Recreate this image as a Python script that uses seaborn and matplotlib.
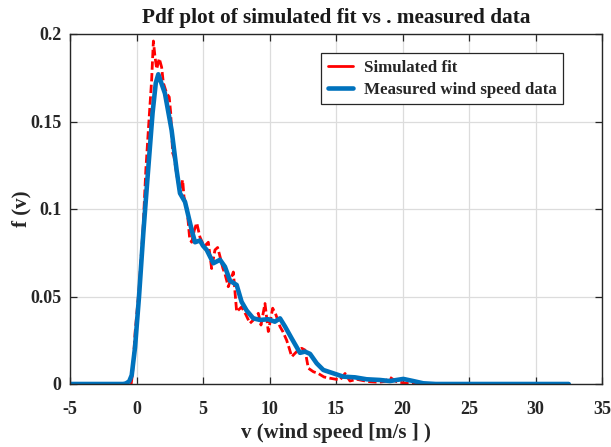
import numpy as np
import pandas as pd
import matplotlib
matplotlib.use("Agg")
import matplotlib.pyplot as plt
import seaborn as sns
from matplotlib.lines import Line2D

# Measured wind speed data (smooth pdf)
meas_v = [-5, -1.0, -0.8, -0.55, -0.36, -0.11, 0.19, 0.51, 0.82, 1.21, 1.45, 1.64,
          2.14, 2.64, 3.02, 3.27, 3.65, 4.15, 4.4, 4.77, 5.0, 5.28, 5.78, 6.28,
          6.65, 7.03, 7.53, 7.9, 8.28, 8.78, 9.29, 9.91, 10.4, 10.79, 11.17, 11.67,
          12.29, 12.67, 13.05, 13.55, 14.05, 14.8, 15.55, 16.43, 17.3, 18.3, 19.06,
          20.06, 20.8, 21.56, 22.5, 25, 30, 32.5]
meas_f = [0, 0, 0.0003, 0.0015, 0.005, 0.021, 0.05, 0.086, 0.117, 0.155, 0.172, 0.177,
          0.166, 0.145, 0.122, 0.109, 0.104, 0.088, 0.081, 0.082, 0.079, 0.0766, 0.069, 0.071,
          0.067, 0.059, 0.0566, 0.047, 0.042, 0.0375, 0.0366, 0.037, 0.0356, 0.0375, 0.0328, 0.026,
          0.0178, 0.0185, 0.0172, 0.0118, 0.008, 0.0061, 0.0042, 0.0038, 0.0027, 0.0023, 0.0017,
          0.0029, 0.0017, 0.0004, 0, 0, 0, 0]

# Simulated fit (noisy)
sim_v = [-0.4, -0.3, -0.1, 0.2, 0.5, 0.7, 0.89, 1.14, 1.27, 1.39, 1.52, 1.71, 1.89, 2.02,
         2.27, 2.46, 2.57, 2.72, 2.82, 3.02, 3.27, 3.47, 3.57, 3.8, 4.0, 4.15, 4.35, 4.53,
         4.77, 5.0, 5.15, 5.4, 5.65, 5.9, 6.1, 6.28, 6.5, 6.65, 6.9, 7.1, 7.28, 7.53, 7.9,
         8.2, 8.53, 8.85, 9.16, 9.36, 9.66, 9.91, 10.24, 10.49, 10.79, 11.0, 11.29, 11.5,
         11.67, 12.04, 12.42, 12.67, 12.92, 13.3, 13.67, 14.1, 14.55, 15.3, 15.68, 16.05,
         16.55, 17.0, 17.55, 18.2, 18.7, 19.06, 19.56, 20.3, 21.0]
sim_f = [0, 0.006, 0.03, 0.055, 0.09, 0.122, 0.145, 0.174, 0.196, 0.187, 0.18, 0.186, 0.181, 0.172,
         0.166, 0.164, 0.155, 0.132, 0.13, 0.12, 0.109, 0.1166, 0.107, 0.1, 0.083, 0.081, 0.088, 0.092,
         0.084, 0.08, 0.079, 0.081, 0.066, 0.0766, 0.078, 0.0728, 0.066, 0.063, 0.0556, 0.06, 0.064, 0.0413, 0.044,
         0.04, 0.0347, 0.037, 0.0404, 0.0337, 0.046, 0.03, 0.0433, 0.0394, 0.0328, 0.03, 0.025, 0.02,
         0.0156, 0.0185, 0.0204, 0.0194, 0.009, 0.007, 0.006, 0.004, 0.0033, 0.0023, 0.006, 0.0017,
         0.0027, 0.002, 0.0013, 0.001, 0.0015, 0.0038, 0.0013, 0.0004, 0]

x_ticks = [-5, 0, 5, 10, 15, 20, 25, 30, 35]
y_ticks = [0, 0.05, 0.1, 0.15, 0.2]
y_tick_labels = ["0", "0.05", "0.1", "0.15", "0.2"]

sns.set_style("ticks")
plt.rcParams['font.family'] = ['Liberation Serif', 'DejaVu Serif']
plt.rcParams['font.weight'] = 'bold'

fig = plt.figure(figsize=(6.11, 4.47), dpi=100)
ax = fig.add_axes([70/611, 1-384/447, 532/611, 350/447])

RED = "#FF0000"
BLUE = "#0072BD"

sim_df = pd.DataFrame({"v": sim_v, "f": sim_f})
meas_df = pd.DataFrame({"v": meas_v, "f": meas_f})

sns.lineplot(data=sim_df, x="v", y="f", ax=ax, color=RED, lw=2.0,
             linestyle=(0, (3, 1.2)), sort=False, estimator=None)
sns.lineplot(data=meas_df, x="v", y="f", ax=ax, color=BLUE, lw=3.3,
             sort=False, estimator=None)

ax.set_xlim(-5, 35)
ax.set_ylim(0, 0.2)
ax.set_xticks(x_ticks)
ax.set_xticklabels([str(t) for t in x_ticks])
ax.set_yticks(y_ticks)
ax.set_yticklabels(y_tick_labels)
ax.tick_params(direction="in", top=True, right=True, length=5, width=0.9,
               labelsize=13, colors="#262626")
ax.tick_params(axis="x", pad=12)
ax.tick_params(axis="y", pad=6)
for lab in ax.get_xticklabels() + ax.get_yticklabels():
    lab.set_fontweight("bold")
    lab.set_color("#262626")
ax.grid(True, color="#dcdcdc", lw=0.9)
ax.set_axisbelow(True)
for s in ax.spines.values():
    s.set_visible(True)
    s.set_color("#262626")
    s.set_linewidth(1.0)

ax.set_title("Pdf plot of simulated fit vs . measured data", fontsize=15.3,
             fontweight="bold", color="#1a1a1a", pad=8)
ax.set_xlabel("v (wind speed [m/s ] )", fontsize=15, fontweight="bold", color="#262626", labelpad=4)
ax.set_ylabel("f (v)", fontsize=15, fontweight="bold", color="#262626", labelpad=-1)

handles = [Line2D([0], [0], color=RED, lw=2.0),
           Line2D([0], [0], color=BLUE, lw=3.3)]
leg = ax.legend(handles, ["Simulated fit", "Measured wind speed data"],
                loc="upper right", bbox_to_anchor=(0.927, 0.946), borderaxespad=0,
                prop={"family": "Liberation Serif", "weight": "bold", "size": 12.2},
                frameon=True, fancybox=False, edgecolor="#262626",
                handlelength=1.5, borderpad=0.4, labelspacing=0.35, handletextpad=0.6,
                framealpha=1)
leg.get_frame().set_linewidth(0.9)

fig.savefig("out.png", dpi=100)
